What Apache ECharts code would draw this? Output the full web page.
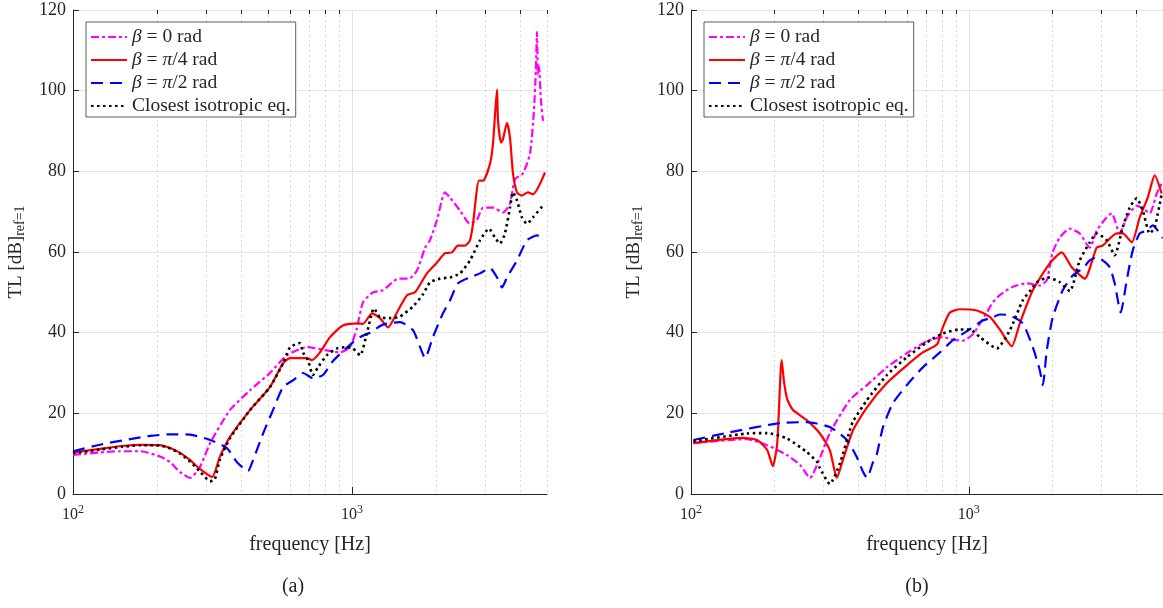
<!DOCTYPE html>
<html>
<head>
<meta charset="utf-8">
<script src="https://cdn.jsdelivr.net/npm/echarts@6.0.0/dist/echarts.min.js"></script>
<style>
html, body { margin: 0; padding: 0; background: #fff; }
#chart { width: 1163px; height: 608px; }
</style>
</head>
<body>
<div id="chart"></div>
<script>
var seriesNames = ['β = 0 rad', 'β = π/4 rad', 'β = π/2 rad', 'Closest isotropic eq.']
var legendLabels = ['{i|β} = 0 rad', '{i|β} = {i|π}/4 rad', '{i|β} = {i|π}/2 rad', 'Closest isotropic eq.']
var majorTicks = [100, 1000]
var minorTicks = [200, 300, 400, 500, 600, 700, 800, 900, 2000, 3000, 4000, 5000]

// (a)  [frequency Hz, TL dB]
var aBeta0 = [[100, 9.7], [125, 10.3], [147, 10.6], [175, 10.6], [205, 9.3], [223, 7.9], [242, 5.4], [263, 4.0], [285, 6.7], [310, 12.6], [365, 20.8], [431, 25.7], [508, 30], [585, 34.4], [690, 36.4], [813, 35.6], [906, 35.1], [984, 36.5], [1040, 41], [1095, 47.5], [1189, 50], [1291, 50.5], [1449, 53.3], [1614, 53.5], [1710, 55.4], [1828, 61], [1905, 63], [2018, 68], [2154, 74.8], [2245, 73.5], [2438, 70.3], [2648, 67], [2805, 68], [2949, 71], [3202, 71], [3477, 69.8], [3683, 72], [3838, 78], [4100, 79.5], [4345, 84.4], [4489, 95], [4560, 105], [4603, 114.5], [4640, 104], [4680, 106], [4750, 98], [4838, 92.5]]
var aBeta45 = [[100, 10.3], [125, 11.2], [150, 11.9], [175, 12.2], [205, 12.1], [223, 11.4], [242, 10.2], [263, 8.4], [285, 6.2], [315, 4.2], [336, 9.2], [365, 14.1], [431, 20.8], [508, 26.5], [566, 32.4], [600, 33.7], [690, 33.7], [719, 33.2], [768, 35.1], [834, 38.9], [928, 41.8], [1042, 42.3], [1095, 42.2], [1180, 44.8], [1260, 43.6], [1346, 41.3], [1462, 45.5], [1575, 49.3], [1682, 50], [1856, 54.7], [2018, 57.4], [2154, 59.7], [2281, 59.9], [2397, 61.6], [2541, 61.6], [2648, 62.9], [2715, 67], [2851, 77.7], [2949, 77.7], [3124, 81.9], [3202, 86.9], [3310, 100.3], [3337, 92.6], [3422, 87.1], [3477, 88], [3594, 92], [3683, 88.4], [3776, 79.5], [3902, 74.8], [4064, 74], [4273, 74.8], [4454, 74.3], [4918, 79.7]]
var aBeta90 = [[100, 10.6], [128, 12.4], [170, 13.9], [189, 14.4], [223, 14.8], [263, 14.7], [310, 13.4], [356, 11.4], [387, 7.9], [424, 5.7], [442, 8.4], [480, 15], [521, 20.8], [566, 26.5], [615, 28.2], [667, 30], [725, 28.7], [787, 29.5], [855, 33], [984, 37], [1069, 38.9], [1160, 40], [1291, 42], [1486, 42.6], [1655, 40.6], [1754, 36.4], [1828, 33.7], [1950, 38.9], [2119, 44.8], [2245, 48], [2397, 52.2], [2648, 53.7], [2876, 54.7], [3124, 56], [3310, 53.7], [3449, 51.2], [3594, 53.7], [3902, 57.9], [4239, 62.9], [4603, 64.1], [4918, 63.4]]
var aIso = [[100, 10.1], [125, 11.0], [150, 11.7], [175, 12.1], [205, 12.0], [223, 11.3], [242, 10.0], [263, 8.0], [285, 5.6], [310, 3.2], [322, 3.6], [336, 8.5], [365, 13.8], [431, 20.8], [508, 26.5], [566, 32.4], [600, 36.4], [651, 37.4], [667, 35.1], [695, 33.2], [725, 29.5], [755, 31.4], [813, 34.4], [884, 36.1], [959, 36.4], [1008, 36.1], [1069, 34.4], [1132, 40], [1199, 46], [1260, 43.8], [1368, 43.6], [1486, 44], [1655, 46.5], [1796, 49.5], [1905, 52.5], [2067, 53.4], [2245, 53.7], [2438, 54.7], [2648, 57.9], [2876, 62.9], [3097, 65.8], [3255, 63.6], [3391, 62.1], [3534, 64.6], [3683, 71], [3776, 74.8], [3902, 72.8], [4064, 68.6], [4239, 67], [4454, 68.6], [4838, 71.5]]

// (b)
var bBeta0 = [[102, 12.6], [159, 13.6], [188, 12.1], [221, 9.7], [247, 7.2], [268, 4.0], [291, 8.9], [316, 15.1], [373, 23.3], [430, 27], [507, 31.4], [598, 34.9], [666, 36.9], [706, 37.9], [806, 38.9], [875, 38.3], [951, 38.0], [1034, 39.6], [1114, 43], [1161, 45], [1220, 47.5], [1292, 49.3], [1440, 51.4], [1617, 52.2], [1801, 51.7], [1908, 53], [1956, 56.5], [2005, 60], [2125, 63.6], [2309, 65.8], [2507, 64.6], [2725, 61.1], [2886, 65.3], [3136, 68.6], [3268, 69.6], [3493, 64.6], [3702, 68.6], [4022, 71.5], [4227, 70.8], [4479, 69.6], [4747, 74.5], [4946, 77]]
var bBeta45 = [[102, 12.6], [154, 13.9], [173, 13.4], [188, 10.9], [197, 6.9], [204, 12], [207, 20], [210, 30], [212, 33.2], [216, 28], [222, 23.5], [233, 20.8], [261, 18.3], [291, 15], [316, 10.9], [335, 4.0], [352, 8.4], [383, 15.8], [430, 21.5], [507, 27.5], [598, 31.9], [683, 35.1], [742, 36.4], [773, 37.4], [806, 41.3], [855, 45], [929, 45.8], [1069, 45.5], [1190, 43.9], [1292, 40.8], [1370, 38.1], [1428, 36.6], [1526, 42.3], [1699, 50.5], [1956, 57.2], [2160, 59.9], [2347, 56.2], [2614, 53.4], [2886, 61.1], [3034, 61.6], [3407, 64.6], [3581, 64.6], [3859, 62.4], [4123, 68.6], [4406, 73.5], [4669, 79], [4946, 74.5]]
var bBeta90 = [[102, 13.4], [138, 15.3], [209, 17.6], [261, 17.8], [316, 16.6], [364, 13.4], [395, 9.2], [416, 5.5], [430, 4.0], [451, 7.7], [467, 10], [491, 16.6], [533, 22.5], [598, 27], [683, 31.4], [787, 35.1], [875, 38.1], [1008, 40.8], [1123, 43], [1220, 43.8], [1292, 44.5], [1405, 44.3], [1564, 42.3], [1699, 36.4], [1801, 30.7], [1846, 27], [1908, 35.6], [2005, 43.8], [2178, 50.5], [2367, 54.2], [2570, 55.9], [2725, 57.9], [2886, 58.7], [3034, 57.9], [3215, 56.2], [3351, 52.2], [3522, 45], [3702, 53], [3891, 60.4], [4123, 64.6], [4369, 65.3], [4592, 66.6], [4786, 65.3], [4987, 63.4]]
var bIso = [[102, 13.1], [159, 15], [188, 15.1], [221, 13.8], [261, 10.4], [284, 8.0], [291, 6.4], [316, 2.5], [344, 7.7], [373, 15.8], [383, 18], [430, 23.3], [507, 29.5], [598, 33.9], [706, 37.6], [806, 39.8], [929, 40.8], [1008, 40.8], [1095, 38.9], [1261, 36.1], [1405, 40.6], [1564, 48], [1699, 51.2], [1756, 52.5], [1924, 53.7], [2125, 52.5], [2309, 50.3], [2507, 57.9], [2725, 62.4], [2886, 64.6], [3136, 62.9], [3351, 59.2], [3581, 66.1], [3795, 71], [4022, 73.3], [4227, 70.3], [4479, 64.6], [4669, 66.1], [4946, 74.5]]

var font = 'Liberation Serif'
var ink = '#262626'
var lineStyles = [
  { color: '#ff00ff', type: [8, 3, 3, 3], width: 2.2 },
  { color: '#ff0000', type: 'solid', width: 2.2 },
  { color: '#0000ff', type: [12, 7], width: 2.2 },
  { color: '#000000', type: [2.5, 3.5], width: 2.6 }
]

var chart = echarts.init(document.getElementById('chart'))

function makeSeries(data, k, panel) {
  return {
    name: seriesNames[k],
    type: 'line',
    xAxisIndex: panel * 2,
    yAxisIndex: panel,
    data: data,
    symbol: 'none',
    smooth: 0.2,
    z: 2 + k,
    lineStyle: { color: lineStyles[k].color, type: lineStyles[k].type, width: lineStyles[k].width },
    itemStyle: { color: lineStyles[k].color }
  }
}

function majorX(panel) {
  return {
    type: 'log', logBase: 10, gridIndex: panel, min: 100, max: 5000,
    name: 'frequency [Hz]', nameLocation: 'middle', nameGap: 41,
    nameTextStyle: { fontFamily: font, fontSize: 20, color: ink },
    axisLine: { show: true, lineStyle: { color: ink, width: 1 } },
    axisTick: { show: true, inside: true, length: 7, customValues: majorTicks, lineStyle: { color: ink } },
    axisLabel: {
      customValues: majorTicks, margin: 10,
      formatter: function (v) {
        var p = Math.round(Math.log10(v))
        return '{b|10}{e|' + p + '}'
      },
      rich: {
        b: { fontFamily: font, fontSize: 16, color: ink },
        e: { fontFamily: font, fontSize: 12, color: ink, padding: [0, 0, 10, 0] }
      }
    },
    splitLine: { show: true, lineStyle: { color: '#e3e3e3', width: 1 } }
  }
}

function minorX(panel) {
  return {
    type: 'log', logBase: 10, gridIndex: panel, min: 100, max: 5000,
    axisLine: { show: false },
    axisLabel: { show: false, customValues: minorTicks },
    axisTick: { show: true, inside: true, length: 4, customValues: minorTicks, lineStyle: { color: ink } },
    splitLine: { show: true, lineStyle: { color: '#d6d6d6', width: 1, type: [2, 3] } }
  }
}

function yAx(panel) {
  return {
    type: 'value', gridIndex: panel, min: 0, max: 120, interval: 20,
    name: 'TL [dB]{s|ref=1}', nameLocation: 'middle', nameRotate: 90, nameGap: 46,
    nameTextStyle: {
      fontFamily: font, fontSize: 19, color: ink,
      rich: { s: { fontFamily: font, fontSize: 14, color: ink, padding: [8, 0, 0, 0] } }
    },
    axisLine: { show: true, lineStyle: { color: ink, width: 1 } },
    axisTick: { show: true, inside: true, length: 6, lineStyle: { color: ink } },
    axisLabel: { fontFamily: font, fontSize: 18, color: ink, margin: 7 },
    splitLine: { show: true, lineStyle: { color: '#e3e3e3', width: 1 } }
  }
}

function makeLegend(left) {
  return {
    data: seriesNames,
    left: left, top: 22,
    orient: 'vertical',
    itemWidth: 36, itemHeight: 12, itemGap: 3,
    padding: [5, 5, 1, 4],
    backgroundColor: '#fff',
    borderColor: '#333', borderWidth: 0.8, borderRadius: 0,
    itemStyle: { opacity: 0 },
    formatter: function (name) { return legendLabels[seriesNames.indexOf(name)] },
    textStyle: {
      fontFamily: font, fontSize: 19.5, color: ink,
      rich: { i: { fontFamily: font, fontSize: 19.5, color: ink, fontStyle: 'italic' } }
    }
  }
}

var series = []
;[aBeta0, aBeta45, aBeta90, aIso].forEach(function (d, k) { series.push(makeSeries(d, k, 0)) })
;[bBeta0, bBeta45, bBeta90, bIso].forEach(function (d, k) { series.push(makeSeries(d, k, 1)) })

chart.setOption({
  animation: false,
  backgroundColor: '#fff',
  grid: [
    { left: 73, top: 10, width: 474, height: 484 },
    { left: 691, top: 10, width: 472, height: 484 }
  ],
  xAxis: [majorX(0), minorX(0), majorX(1), minorX(1)],
  yAxis: [yAx(0), yAx(1)],
  legend: [makeLegend(86), makeLegend(704)],
  graphic: [
    { type: 'text', x: 293, y: 587, style: { text: '(a)', fontFamily: font, fontSize: 20, fill: ink, textAlign: 'center', textVerticalAlign: 'middle' } },
    { type: 'text', x: 917, y: 587, style: { text: '(b)', fontFamily: font, fontSize: 20, fill: ink, textAlign: 'center', textVerticalAlign: 'middle' } }
  ],
  series: series
})
</script>
</body>
</html>
